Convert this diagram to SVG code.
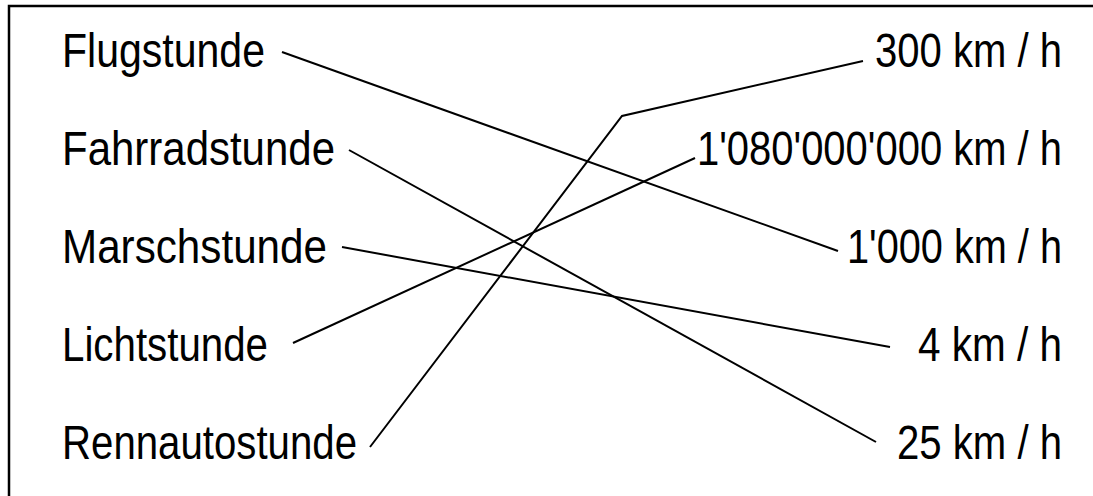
<svg xmlns="http://www.w3.org/2000/svg" width="1093" height="496" viewBox="0 0 1093 496">
<style>
.t{font-family:"Liberation Sans","DejaVu Sans",sans-serif;font-size:48px;fill:#000}
.c{stroke:#000;stroke-width:2;fill:none;stroke-linejoin:miter}
</style>
<rect x="0" y="0" width="1093" height="496" fill="#fff"/>
<path d="M9 500 V6 H1100" fill="none" stroke="#000" stroke-width="2.5"/>
<g id="n-flugstunde"><text class="t" x="62" y="67" textLength="203" lengthAdjust="spacingAndGlyphs">Flugstunde</text></g>
<g id="n-fahrradstunde"><text class="t" x="62" y="165" textLength="273" lengthAdjust="spacingAndGlyphs">Fahrradstunde</text></g>
<g id="n-marschstunde"><text class="t" x="62" y="263" textLength="265" lengthAdjust="spacingAndGlyphs">Marschstunde</text></g>
<g id="n-lichtstunde"><text class="t" x="62" y="361" textLength="206" lengthAdjust="spacingAndGlyphs">Lichtstunde</text></g>
<g id="n-rennautostunde"><text class="t" x="62" y="459" textLength="295" lengthAdjust="spacingAndGlyphs">Rennautostunde</text></g>
<g id="n-300"><text class="t" x="875" y="67" textLength="187" lengthAdjust="spacingAndGlyphs">300 km / h</text></g>
<g id="n-1080000000"><text class="t" x="697" y="165" textLength="365" lengthAdjust="spacingAndGlyphs">1'080'000'000 km / h</text></g>
<g id="n-1000"><text class="t" x="847" y="263" textLength="215" lengthAdjust="spacingAndGlyphs">1'000 km / h</text></g>
<g id="n-4"><text class="t" x="918" y="361" textLength="144" lengthAdjust="spacingAndGlyphs">4 km / h</text></g>
<g id="n-25"><text class="t" x="897" y="459" textLength="165" lengthAdjust="spacingAndGlyphs">25 km / h</text></g>
<g id="connectors">
<path class="c" d="M282 52 L838 251"/>
<path class="c" d="M349 150 L876 442"/>
<path class="c" d="M342 247 L890 347"/>
<path class="c" d="M293 343 L695 158"/>
<path class="c" d="M370 447 L622 116 L863 61"/>
</g>
</svg>
